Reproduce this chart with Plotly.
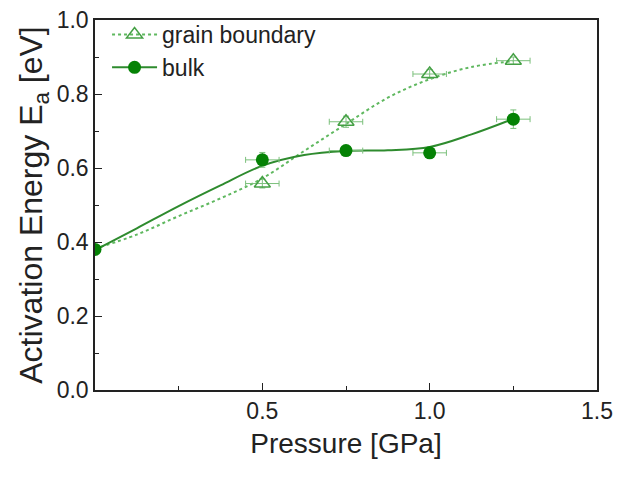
import plotly.graph_objects as go

# measured data
p_bulk = [0.0, 0.5, 0.75, 1.0, 1.25]
e_bulk = [0.38, 0.622, 0.647, 0.641, 0.732]
ey_bulk = [0.0, 0.02, 0.012, 0.012, 0.025]
ex_bulk = [0.0, 0.05, 0.05, 0.05, 0.05]

p_gb = [0.5, 0.75, 1.0, 1.25]
e_gb = [0.558, 0.725, 0.854, 0.89]
ey_gb = [0.012, 0.015, 0.012, 0.01]
ex_gb = [0.05, 0.05, 0.05, 0.05]

# fitted curves
p_fit = [0.0, 0.125, 0.25, 0.375, 0.5, 0.625, 0.75, 0.875, 1.0, 1.125, 1.25]
e_fit_bulk = [0.378, 0.437, 0.497, 0.553, 0.606, 0.635, 0.646, 0.648, 0.657, 0.691, 0.733]
e_fit_gb = [0.382, 0.42, 0.47, 0.518, 0.572, 0.646, 0.719, 0.79, 0.84, 0.873, 0.889]

x_ticks = [0.5, 1.0, 1.5]
x_minor = [0.25, 0.75, 1.25]
y_ticks = [0.0, 0.2, 0.4, 0.6, 0.8, 1.0]
y_minor = [0.1, 0.3, 0.5, 0.7, 0.9]

GREEN = "#058205"
LINE_GREEN = "#2e8b2e"
LIGHT = "#5fb85f"
TRI = "#45a045"
ERR = "#7cc07c"

fig = go.Figure()

fig.add_trace(go.Scatter(
    x=p_fit, y=e_fit_gb, mode="lines", line_shape="spline",
    line=dict(color=LIGHT, width=2, dash="dot"), showlegend=False))
fig.add_trace(go.Scatter(
    x=p_fit, y=e_fit_bulk, mode="lines", line_shape="spline",
    line=dict(color=LINE_GREEN, width=2), showlegend=False))

fig.add_trace(go.Scatter(
    x=p_gb, y=e_gb, mode="markers", showlegend=False,
    marker=dict(symbol="triangle-up-open", size=14, color=TRI, line=dict(width=1.5)),
    error_x=dict(type="data", array=ex_gb, color=ERR, thickness=1, width=3),
    error_y=dict(type="data", array=ey_gb, color=ERR, thickness=1, width=3)))
fig.add_trace(go.Scatter(
    x=p_bulk, y=e_bulk, mode="markers", showlegend=False,
    marker=dict(symbol="circle", size=13, color=GREEN),
    error_x=dict(type="data", array=ex_bulk, color=ERR, thickness=1, width=3),
    error_y=dict(type="data", array=ey_bulk, color=ERR, thickness=1, width=3)))

# legend entries
fig.add_trace(go.Scatter(
    x=[None], y=[None], mode="lines+markers", name="grain boundary",
    line=dict(color=LIGHT, width=2, dash="dot"),
    marker=dict(symbol="triangle-up-open", size=14, color=TRI, line=dict(width=1.5))))
fig.add_trace(go.Scatter(
    x=[None], y=[None], mode="lines+markers", name="bulk",
    line=dict(color=LINE_GREEN, width=2),
    marker=dict(symbol="circle", size=13, color=GREEN)))

axis_common = dict(
    showgrid=False, zeroline=False, showline=True, linecolor="#222", linewidth=1.5,
    mirror=True, ticks="inside", ticklen=7, tickwidth=1.2, tickcolor="#222",
    tickfont=dict(size=23, color="#222"), automargin=False,
)

fig.update_xaxes(
    range=[0, 1.5], tickmode="array", tickvals=x_ticks, ticktext=["0.5", "1.0", "1.5"],
    minor=dict(tickmode="array", tickvals=x_minor, ticks="inside", ticklen=4, tickcolor="#222"),
    title=dict(text="Pressure [GPa]", font=dict(size=28, color="#222"), standoff=10),
    **axis_common)
fig.update_yaxes(
    range=[0, 1.0], tickmode="array", tickvals=y_ticks, ticktext=[f"{v:.1f}" for v in y_ticks],
    minor=dict(tickmode="array", tickvals=y_minor, ticks="inside", ticklen=4, tickcolor="#222"),
    title=dict(text="Activation Energy E<sub>a</sub> [eV]", font=dict(size=32, color="#222"), standoff=4),
    **axis_common)

fig.update_layout(
    width=618, height=478,
    margin=dict(l=95, r=21, t=20, b=88),
    paper_bgcolor="white", plot_bgcolor="white",
    font=dict(family="Liberation Sans, Arial, sans-serif", color="#222"),
    legend=dict(x=0.024, y=1.019, xanchor="left", yanchor="top", bgcolor="rgba(0,0,0,0)",
                font=dict(size=23, color="#222"), itemwidth=45, tracegroupgap=0,
                traceorder="normal"),
)

fig.write_html("out.html")
